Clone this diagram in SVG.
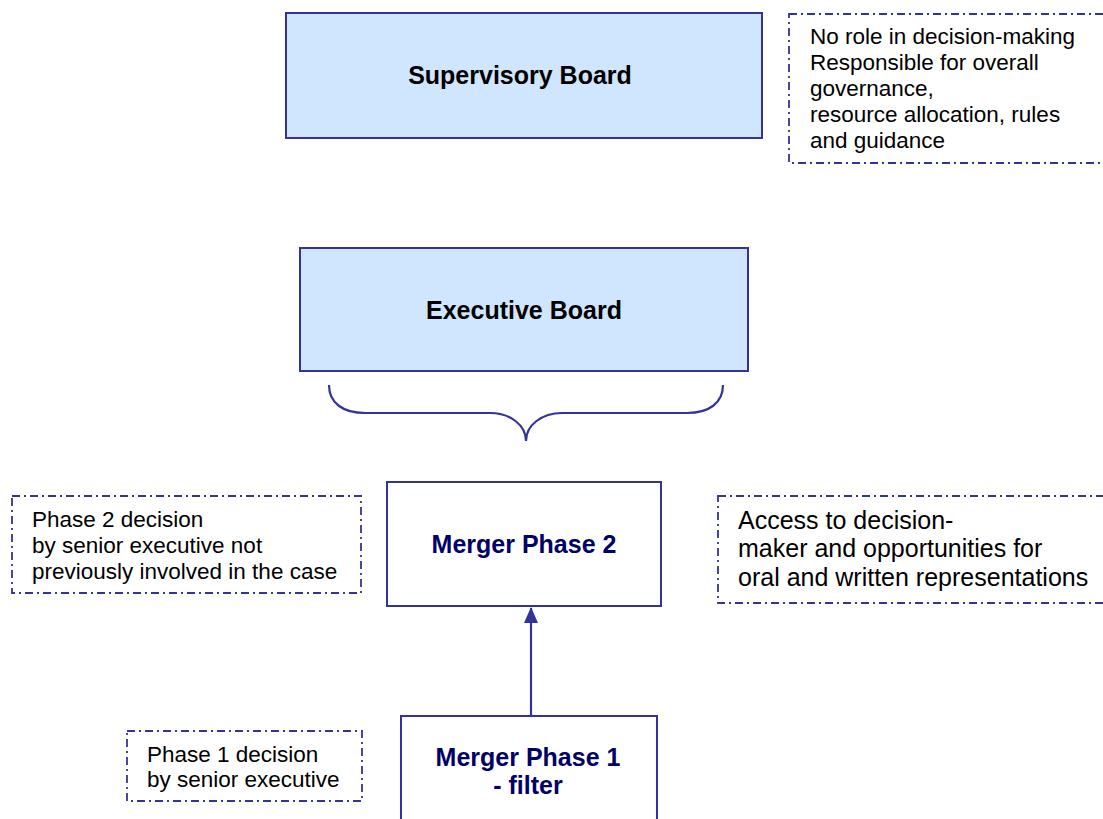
<svg xmlns="http://www.w3.org/2000/svg" width="1103" height="819" viewBox="0 0 1103 819">
<style>
.board{fill:#D0E6FE;stroke:#333399;stroke-width:2}
.box{fill:#FFFFFF;stroke:#333399;stroke-width:2}
.note{fill:none;stroke:#333399;stroke-width:1.8;stroke-dasharray:8 4 2 4}
.bl{font-family:"Liberation Sans",Arial,sans-serif;font-weight:bold;font-size:25px;fill:#000000;text-anchor:middle}
.ml{font-family:"Liberation Sans",Arial,sans-serif;font-weight:bold;font-size:25px;fill:#000066;text-anchor:middle}
.nt{font-family:"Liberation Sans",Arial,sans-serif;font-size:22.5px;fill:#000000}
.at{font-family:"Liberation Sans",Arial,sans-serif;font-size:25px;fill:#000000}
.conn{fill:none;stroke:#333399;stroke-width:2.2}
</style>
<defs>
<marker id="ah" markerWidth="16" markerHeight="14" refX="15" refY="7" orient="auto" markerUnits="userSpaceOnUse" viewBox="0 0 16 14">
<path d="M0,0 L16,7 L0,14 Z" fill="#333399"/>
</marker>
</defs>
<rect width="1103" height="819" fill="#FFFFFF"/>
<g id="supervisory-board">
<rect class="board" x="286" y="13" width="476" height="125"/>
<text class="bl" x="520" y="84">Supervisory Board</text>
</g>
<g id="note-supervisory">
<rect class="note" x="789" y="14" width="330" height="149"/>
<text class="nt" x="810" y="44">No role in decision-making</text>
<text class="nt" x="810" y="70">Responsible for overall</text>
<text class="nt" x="810" y="96">governance,</text>
<text class="nt" x="810" y="122">resource allocation, rules</text>
<text class="nt" x="810" y="148">and guidance</text>
</g>
<g id="executive-board">
<rect class="board" x="300" y="248" width="448" height="123"/>
<text class="bl" x="524" y="319">Executive Board</text>
</g>
<g id="merger-phase-2">
<rect class="box" x="387" y="482" width="274" height="124"/>
<text class="ml" x="524" y="553">Merger Phase 2</text>
</g>
<g id="note-phase-2">
<rect class="note" x="12" y="496" width="349" height="97"/>
<text class="nt" x="32" y="527">Phase 2 decision</text>
<text class="nt" x="32" y="553">by senior executive not</text>
<text class="nt" x="32" y="579">previously involved in the case</text>
</g>
<g id="note-access">
<rect class="note" x="718" y="496" width="400" height="107"/>
<text class="at" x="738" y="529">Access to decision-</text>
<text class="at" x="738" y="557">maker and opportunities for</text>
<text class="at" x="738" y="586">oral and written representations</text>
</g>
<g id="merger-phase-1">
<rect class="box" x="401" y="716" width="256" height="120"/>
<text class="ml" x="528" y="766">Merger Phase 1</text>
<text class="ml" x="528" y="794">- filter</text>
</g>
<g id="note-phase-1">
<rect class="note" x="127" y="731" width="235" height="70"/>
<text class="nt" x="147" y="762">Phase 1 decision</text>
<text class="nt" x="147" y="787">by senior executive</text>
</g>
<g id="connectors">
<path class="conn" d="M329,385 C329,403 343,413 365,413 L490,413 C510,413 526,425 526,441 C526,425 542,413 562,413 L687,413 C709,413 723,403 723,385"/>
<path class="conn" d="M531,716 L531,608" marker-end="url(#ah)"/>
</g>
</svg>
